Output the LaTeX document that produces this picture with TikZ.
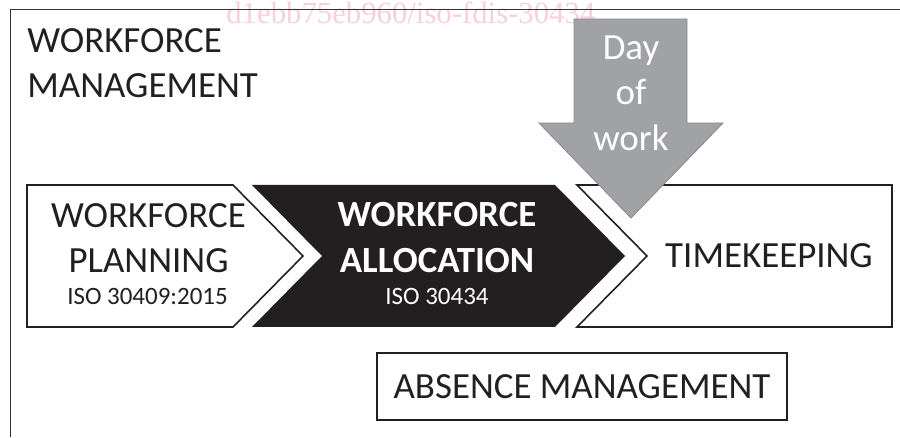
\documentclass[tikz,border=0pt]{standalone}
\usepackage{fontspec}
\setmainfont{Carlito}
\newfontfamily\stampfont{Liberation Serif}
\usetikzlibrary{positioning}
\definecolor{InkBlack}{RGB}{35,31,32}
\definecolor{DayGray}{RGB}{161,162,165}
\definecolor{StampPink}{RGB}{247,208,217}
\tikzset{
  frame/.style={draw=black!80,line width=1.1pt},
  panel/.style={draw=InkBlack,line width=0.9pt,fill=white,line join=miter},
  darkpanel/.style={fill=InkBlack},
  dayarrow/.style={fill=DayGray,draw=black!45,line width=0.5pt},
  heading/.style={font=\fontsize{21}{26}\selectfont,inner sep=0pt,align=center,text=InkBlack},
  isotext/.style={font=\fontsize{14.2}{17}\selectfont,inner sep=0pt,text=InkBlack},
}
\tikzset{box/.style={draw=InkBlack,line width=0.9pt,fill=white,inner sep=0pt}}

\begin{document}
\begin{tikzpicture}
\useasboundingbox (0,0) rectangle (18,8.74);
\node[anchor=base west,inner sep=0pt,text=StampPink,font=\stampfont\fontsize{17.5}{20}\selectfont] (stamp) at (4.52,8.27) {d1ebb75eb960/iso-fdis-30434};
% outer frame, runs off the page on the right and at the bottom
\coordinate (fa) at (0.21,0);
\coordinate (fb) at (18,8.55);
\draw[frame] (fa) |- (fb);
\node[heading,align=left,anchor=north west] (wfm) at (0.54,8.18) {WORKFORCE\\MANAGEMENT};
% planning
\coordinate (pa) at (0.54,5.04);
\coordinate (pb) at (4.66,5.04);
\coordinate (pc) at (6.06,3.62);
\coordinate (pd) at (4.66,2.20);
\coordinate (pe) at (0.54,2.20);
\draw[panel] (pa)--(pb)--(pc)--(pd)--(pe)--cycle;
% allocation
\coordinate (aa) at (5.04,5.04);
\coordinate (ab) at (11.10,5.04);
\coordinate (ac) at (12.50,3.62);
\coordinate (ad) at (11.10,2.20);
\coordinate (ae) at (5.04,2.20);
\coordinate (af) at (6.44,3.62);
\fill[darkpanel] (aa)--(ab)--(ac)--(ad)--(ae)--(af)--cycle;
% timekeeping
\coordinate (ta) at (11.54,5.04);
\coordinate (tb) at (17.84,5.04);
\coordinate (tc) at (17.84,2.20);
\coordinate (td) at (11.54,2.20);
\coordinate (te) at (12.94,3.62);
\draw[panel] (ta)--(tb)--(tc)--(td)--(te)--cycle;
% day of work
\coordinate (da) at (11.48,8.36);
\coordinate (db) at (13.74,8.36);
\coordinate (dc) at (13.74,6.28);
\coordinate (dd) at (14.46,6.28);
\coordinate (de) at (12.62,4.38);
\coordinate (df) at (10.78,6.28);
\coordinate (dg) at (11.48,6.28);
\draw[dayarrow] (da)--(db)--(dc)--(dd)--(de)--(df)--(dg)--cycle;
\node[heading,text=white,anchor=north] (dow) at (12.62,8.04) {Day\\of\\work};
\node[heading,anchor=north] (wfp) at (2.97,4.68) {WORKFORCE\\PLANNING};
\node[isotext,anchor=base] (isop) at (2.95,2.64) {ISO 30409:2015};
\node[heading,text=white,font=\fontsize{21}{26}\selectfont\bfseries,anchor=north] (wfa) at (8.74,4.70) {WORKFORCE\\ALLOCATION};
\node[isotext,text=white,anchor=base] (isoa) at (8.74,2.64) {ISO 30434};
\node[heading] (tk) at (15.38,3.62) {TIMEKEEPING};
\node[box,heading,minimum width=8.2cm,minimum height=1.34cm] (absence) at (11.64,1.01) {ABSENCE MANAGEMENT};
\end{tikzpicture}
\end{document}
